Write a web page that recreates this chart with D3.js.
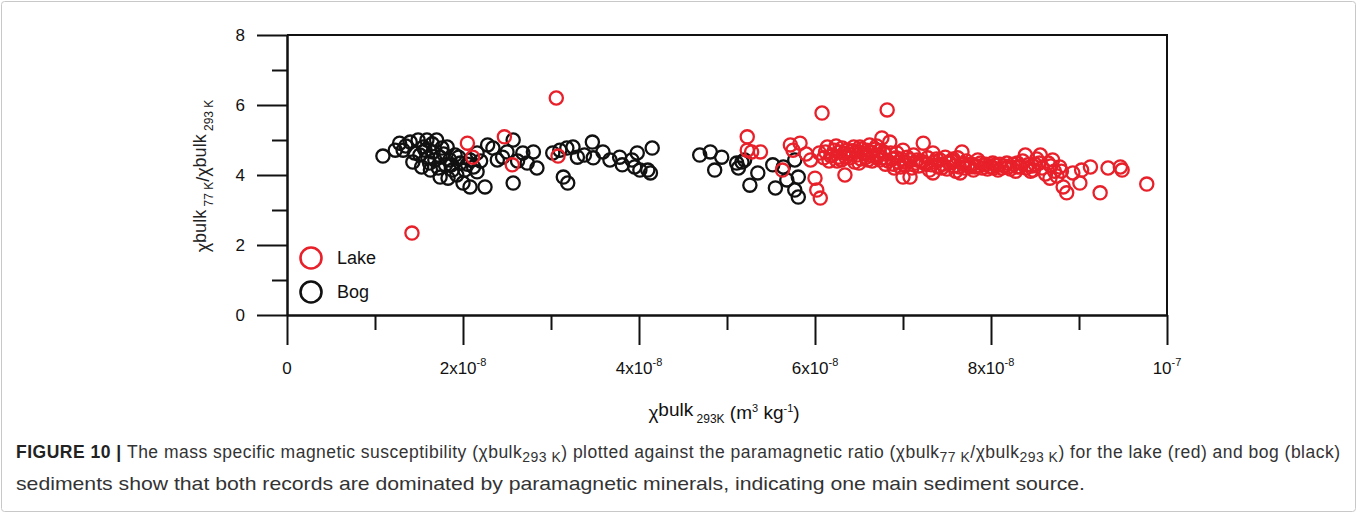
<!DOCTYPE html>
<html>
<head>
<meta charset="utf-8">
<script src="https://cdn.jsdelivr.net/npm/d3@7"></script>
<style>
  body { margin: 0; background: #fff; }
  text { font-family: "Liberation Sans", Arial, sans-serif; }
</style>
</head>
<body>
<div class="canvas"></div>
<script>
// x values in units of 1e-8 m3/kg, y = paramagnetic ratio
const bogX = [1.09, 1.28, 1.32, 1.40, 1.49, 1.59, 1.70, 1.82, 1.43, 1.53, 1.63, 1.74, 1.83, 1.93, 2.00, 2.08,
  2.25, 2.16, 1.97, 1.85, 1.74, 1.66, 2.16, 2.28, 2.34, 2.39, 2.50, 2.57, 2.57, 2.68, 2.80, 2.73, 2.84,
  3.14, 3.19, 3.10, 3.25, 3.30, 3.18, 3.47, 3.48, 3.59, 3.67, 3.78, 3.81, 3.92, 3.98, 3.95, 4.01, 4.10,
  4.15, 4.13, 1.57, 1.68, 1.80, 1.91, 1.51, 1.60, 1.88, 2.02, 2.08, 1.76, 1.23,
  1.45, 1.55, 1.62, 1.72, 1.78, 1.87, 1.95, 2.05, 2.12, 2.20, 1.35, 1.65, 2.45, 2.62, 3.02, 3.38,
  4.69, 4.81, 4.94, 4.86, 5.11, 5.17, 5.13, 5.35, 5.26, 5.52, 5.55, 5.68, 5.77, 5.81, 5.81, 5.20, 5.64, 5.77];
const bogY = [4.54, 4.91, 4.71, 4.94, 5.00, 5.00, 5.00, 4.80, 4.37, 4.23, 4.14, 3.94, 3.91, 4.00, 3.77, 3.66,
  3.66, 4.09, 4.34, 4.43, 4.51, 4.66, 4.63, 4.86, 4.77, 4.43, 4.66, 5.00, 3.77, 4.63, 4.66, 4.34, 4.20,
  3.94, 3.77, 4.71, 4.80, 4.51, 4.77, 4.94, 4.49, 4.66, 4.43, 4.51, 4.29, 4.43, 4.63, 4.23, 4.14, 4.14,
  4.77, 4.06, 4.71, 4.43, 4.29, 4.57, 4.57, 4.49, 4.14, 4.14, 4.43, 4.77, 4.71,
  4.63, 4.80, 4.34, 4.20, 4.60, 4.29, 4.51, 4.31, 4.23, 4.40, 4.83, 4.89, 4.51, 4.40, 4.63, 4.57,
  4.57, 4.66, 4.51, 4.14, 4.34, 4.37, 4.20, 4.06, 3.71, 4.29, 3.63, 3.86, 3.57, 3.37, 3.94, 4.43, 4.23, 4.43];

const lakeX = [1.42, 2.05, 2.11, 2.47, 2.56, 3.08, 3.06, 5.23, 5.23, 5.28, 5.38, 5.63, 5.72, 5.83, 6.00, 6.02,
  6.06, 6.08, 6.34, 6.82, 9.77, 9.49, 9.47, 9.33, 9.24, 9.13, 9.03, 9.01, 8.93, 8.86, 8.82, 8.78, 8.70,
  8.67, 8.56, 8.48, 8.39, 8.30, 8.18, 8.02, 7.88, 7.76, 7.65, 7.67, 7.53, 7.42, 7.34, 7.34, 7.23, 7.16,
  7.08, 7.00, 6.97, 7.00, 6.93, 6.85, 6.76, 6.70, 6.59, 6.51,
  6.05, 6.10, 6.14, 6.18, 6.22, 6.25, 6.28, 6.31, 6.35, 6.38, 6.42, 6.45, 6.48, 6.52, 6.55, 6.58, 6.62,
  6.65, 6.68, 6.72, 6.74, 6.78, 6.80, 6.88, 6.90, 6.95, 7.02, 7.05, 7.10, 7.12, 7.18, 7.20, 7.26, 7.28,
  7.30, 7.36, 7.40, 7.45, 7.48, 7.50, 7.55, 7.58, 7.60, 7.62, 7.68, 7.70, 7.72, 7.78, 7.80, 7.82, 7.85,
  7.90, 7.92, 7.96, 8.00, 8.05, 8.08, 8.12, 8.15, 8.22, 8.25, 8.28, 8.33, 8.36, 8.42, 8.45, 8.50, 8.52,
  8.58, 8.62, 8.65, 8.72, 8.75, 8.80, 5.75, 5.90, 5.95,
  6.12, 6.16, 6.20, 6.24, 6.27, 6.30, 6.33, 6.36, 6.40, 6.44, 6.47, 6.50, 6.53, 6.57, 6.60, 6.63, 6.66,
  6.70, 6.73, 6.76, 6.79, 6.83, 6.86, 6.89, 6.92, 6.98, 7.03, 7.08, 7.14, 7.22, 7.32, 7.38, 7.44, 7.52,
  7.57, 7.64, 7.74, 7.84, 7.94, 8.03, 8.10, 8.20, 8.30, 8.40, 8.47, 8.55, 8.68];
const lakeY = [2.34, 4.91, 4.51, 5.09, 4.29, 4.54, 6.20, 5.09, 4.71, 4.66, 4.66, 4.14, 4.86, 4.91, 3.91, 3.57,
  3.34, 5.77, 4.00, 5.86, 3.74, 4.14, 4.23, 4.20, 3.49, 4.23, 4.14, 3.77, 4.06, 3.49, 3.66, 4.23, 4.43,
  3.91, 4.57, 4.14, 4.57, 4.23, 4.34, 4.34, 4.34, 4.23, 4.06, 4.66, 4.34, 4.43, 4.06, 4.63, 4.91, 4.43,
  3.94, 3.94, 4.23, 4.71, 4.63, 4.94, 5.06, 4.51, 4.71, 4.80,
  4.63, 4.49, 4.80, 4.54, 4.71, 4.40, 4.66, 4.77, 4.51, 4.60, 4.69, 4.37, 4.57, 4.46, 4.63, 4.51, 4.86,
  4.40, 4.74, 4.57, 4.43, 4.66, 4.31, 4.46, 4.20, 4.37, 4.29, 4.51, 4.20, 4.57, 4.26, 4.40, 4.31, 4.49,
  4.14, 4.37, 4.23, 4.31, 4.51, 4.17, 4.40, 4.26, 4.11, 4.49, 4.31, 4.20, 4.40, 4.31, 4.14, 4.23, 4.43,
  4.20, 4.29, 4.17, 4.23, 4.29, 4.14, 4.20, 4.26, 4.17, 4.31, 4.11, 4.23, 4.40, 4.29, 4.11, 4.31, 4.46,
  4.20, 4.03, 4.34, 4.11, 3.97, 4.11, 4.71, 4.60, 4.43,
  4.66, 4.40, 4.57, 4.83, 4.51, 4.43, 4.63, 4.71, 4.49, 4.80, 4.66, 4.34, 4.74, 4.60, 4.43, 4.66, 4.54,
  4.83, 4.69, 4.49, 4.60, 4.40, 4.63, 4.31, 4.49, 4.46, 4.37, 4.43, 4.34, 4.37, 4.29, 4.46, 4.20, 4.37,
  4.46, 4.23, 4.29, 4.26, 4.31, 4.20, 4.31, 4.23, 4.34, 4.20, 4.26, 4.34, 4.26];

const xMajor = [0, 2, 4, 6, 8, 10];
const xMinor = [1, 3, 5, 7, 9];
const xLabels = [["0", ""], ["2x10", "-8"], ["4x10", "-8"], ["6x10", "-8"], ["8x10", "-8"], ["10", "-7"]];
const yMajor = [0, 2, 4, 6, 8];
const yMinor = [1, 3, 5, 7];
const seriesNames = ["Lake", "Bog"];
const seriesColors = ["#e8202a", "#111111"];

const W = 1357, H = 513;
const plot = { left: 287, right: 1167, top: 35, bottom: 315 };

const svg = d3.select(".canvas").append("svg").attr("width", W).attr("height", H);

// figure border
svg.append("rect")
  .attr("x", 1.5).attr("y", 1.5).attr("width", W - 3).attr("height", H - 3)
  .attr("fill", "none").attr("stroke", "#c8c8c8").attr("stroke-width", 1).attr("rx", 3);

const x = d3.scaleLinear().domain([0, 10]).range([plot.left, plot.right]);
const y = d3.scaleLinear().domain([0, 8]).range([plot.bottom, plot.top]);

const styleAxis = (g) => {
  g.select(".domain").attr("stroke", "#111").attr("stroke-width", 2);
  g.selectAll(".tick line").attr("stroke", "#111").attr("stroke-width", 2);
  g.selectAll(".tick text").remove();
};

// x axis (major + minor, ticks pointing down)
svg.append("g").attr("transform", `translate(0,${plot.bottom})`)
  .call(d3.axisBottom(x).tickValues(xMajor).tickSize(30).tickSizeOuter(0)).call(styleAxis);
svg.append("g").attr("transform", `translate(0,${plot.bottom})`)
  .call(d3.axisBottom(x).tickValues(xMinor).tickSize(15).tickSizeOuter(0)).call(styleAxis);

// y axis (major + minor, ticks pointing left)
svg.append("g").attr("transform", `translate(${plot.left},0)`)
  .call(d3.axisLeft(y).tickValues(yMajor).tickSize(30).tickSizeOuter(0)).call(styleAxis);
svg.append("g").attr("transform", `translate(${plot.left},0)`)
  .call(d3.axisLeft(y).tickValues(yMinor).tickSize(15).tickSizeOuter(0)).call(styleAxis);

// frame top + right
svg.append("path")
  .attr("d", `M${x(0)},${y(8)}H${x(10)}V${y(0)}`)
  .attr("fill", "none").attr("stroke", "#111").attr("stroke-width", 2);

// x tick labels
xMajor.forEach((v, i) => {
  const t = svg.append("text")
    .attr("x", x(v)).attr("y", plot.bottom + 59)
    .attr("text-anchor", "middle").attr("font-size", 17).attr("fill", "#111");
  t.append("tspan").text(xLabels[i][0]);
  if (xLabels[i][1]) t.append("tspan").attr("dy", -8).attr("font-size", 11).text(xLabels[i][1]);
});

// y tick labels
svg.selectAll(".ylab").data(yMajor).join("text")
  .attr("class", "ylab")
  .attr("x", plot.left - 42).attr("y", (d) => y(d) + 6)
  .attr("text-anchor", "end").attr("font-size", 17).attr("fill", "#111")
  .text((d) => d);

// x axis title
const xt = svg.append("text")
  .attr("x", 724).attr("y", 419).attr("text-anchor", "middle")
  .attr("font-size", 19).attr("fill", "#111");
xt.append("tspan").text("χ");
xt.append("tspan").attr("dy", -3).text("bulk");
xt.append("tspan").attr("dy", 7).attr("font-size", 12).text(" 293K");
xt.append("tspan").attr("dy", -4).text(" (m");
xt.append("tspan").attr("dy", -7).attr("font-size", 11).text("3");
xt.append("tspan").attr("dy", 7).text(" kg");
xt.append("tspan").attr("dy", -7).attr("font-size", 11).text("-1");
xt.append("tspan").attr("dy", 7).text(")");

// y axis title
const yt = svg.append("text")
  .attr("transform", "translate(209,176) rotate(-90)")
  .attr("text-anchor", "middle").attr("font-size", 18).attr("fill", "#222");
yt.append("tspan").text("χ");
yt.append("tspan").attr("dy", -3).text("bulk");
yt.append("tspan").attr("dy", 7).attr("font-size", 12).text(" 77 K");
yt.append("tspan").attr("dy", -4).text("/χ");
yt.append("tspan").attr("dy", -3).text("bulk");
yt.append("tspan").attr("dy", 7).attr("font-size", 12).text(" 293 K");

// data points
const series = [
  { name: seriesNames[1], color: seriesColors[1], pts: bogX.map((v, i) => [v, bogY[i]]) },
  { name: seriesNames[0], color: seriesColors[0], pts: lakeX.map((v, i) => [v, lakeY[i]]) }
];
series.forEach((s) => {
  svg.append("g").selectAll("circle").data(s.pts).join("circle")
    .attr("cx", (d) => x(d[0])).attr("cy", (d) => y(d[1])).attr("r", 6.6)
    .attr("fill", "none").attr("stroke", s.color).attr("stroke-width", 2.3);
});

// legend
const legend = svg.append("g").attr("transform", "translate(311,258)");
seriesNames.forEach((name, i) => {
  legend.append("circle").attr("cx", 0).attr("cy", i * 34).attr("r", 10.5)
    .attr("fill", "none").attr("stroke", seriesColors[i]).attr("stroke-width", 2.6);
  legend.append("text").attr("x", 26).attr("y", i * 34 + 6)
    .attr("font-size", 18).attr("fill", "#111").text(name);
});

// caption
const cap = svg.append("g").attr("font-size", 17.5).attr("fill", "#333");
const c1 = cap.append("text").attr("x", 16).attr("y", 458)
  .attr("textLength", 1324).attr("lengthAdjust", "spacing");
c1.append("tspan").attr("font-weight", "bold").attr("fill", "#222").text("FIGURE 10 | ");
c1.append("tspan").text("The mass specific magnetic susceptibility (χbulk");
c1.append("tspan").attr("dy", 4).attr("font-size", 14).text("293 K");
c1.append("tspan").attr("dy", -4).text(") plotted against the paramagnetic ratio (χbulk");
c1.append("tspan").attr("dy", 4).attr("font-size", 14).text("77 K");
c1.append("tspan").attr("dy", -4).text("/χbulk");
c1.append("tspan").attr("dy", 4).attr("font-size", 14).text("293 K");
c1.append("tspan").attr("dy", -4).text(") for the lake (red) and bog (black)");
cap.append("text").attr("x", 16).attr("y", 490).attr("font-size", 18.5)
  .attr("textLength", 1069).attr("lengthAdjust", "spacingAndGlyphs")
  .text("sediments show that both records are dominated by paramagnetic minerals, indicating one main sediment source.");
</script>
</body>
</html>
